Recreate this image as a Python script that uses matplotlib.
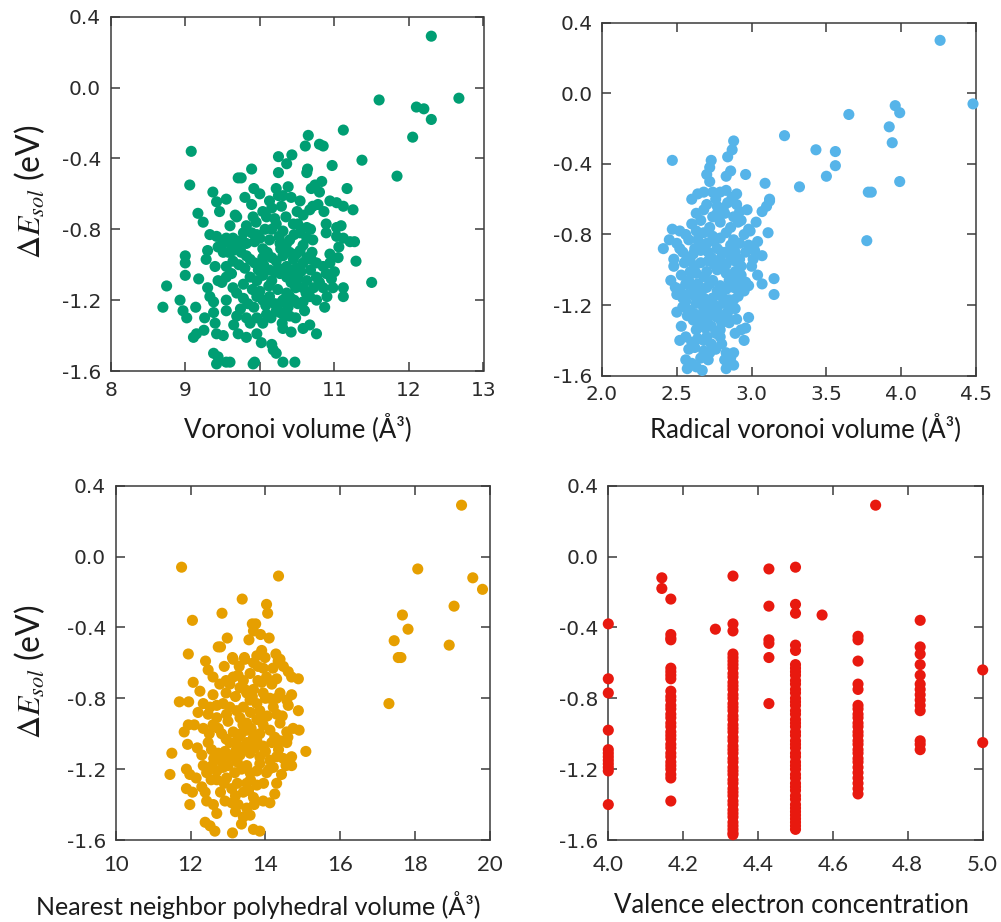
import matplotlib
matplotlib.use("Agg")
import matplotlib.pyplot as plt

# ---------------- data ----------------
# Voronoi volume (A^3) vs solution energy (eV)
voronoi_vol = [12.30, 12.67, 11.60, 12.10, 12.20, 12.30, 12.05, 11.84, 11.12, 10.65, 10.61, 10.80, 10.85,
               9.08, 10.25, 10.43, 10.36, 11.37, 10.97, 9.89, 10.25, 10.64, 10.63, 9.71, 9.75, 9.06, 9.92,
               10.22, 10.38, 10.69, 10.74, 10.83, 10.80, 11.17, 9.37,
               9.42, 10.13, 10.25, 10.31, 10.54, 10.94, 11.03, 11.12,
               9.89, 10.16, 10.04, 10.29, 10.09, 10.20, 9.17, 9.24, 9.67, 9.69, 9.91, 10.58, 10.67, 10.78,
               10.71, 10.45, 10.51, 10.63, 10.89, 11.09, 11.25, 11.03,
               9.33, 9.42, 9.55, 9.64, 9.78, 9.89, 9.96, 10.07, 10.16, 10.22, 10.31, 10.40, 10.54, 10.63,
               10.71, 10.89, 11.03, 11.12, 11.21, 11.27, 9.44, 9.60, 9.69, 9.82, 9.93, 10.04, 10.13, 10.27,
               10.36, 10.58,
               9.00, 9.00, 9.28, 9.51, 9.64, 9.75, 9.82, 9.64, 9.55, 9.87, 9.93, 10.04, 10.16, 10.22, 10.31,
               10.40, 10.49, 10.54, 10.63, 10.69, 10.76, 10.85, 10.94, 11.05, 10.94, 11.29, 10.13, 10.25,
               10.36, 10.49,
               8.75, 9.00, 9.18, 9.44, 9.49, 9.55, 9.64, 9.78, 9.87, 9.96, 10.04, 10.16, 10.27, 10.36, 10.45,
               10.51, 10.63, 10.76, 10.89, 11.00, 11.50, 10.58, 10.85, 10.98, 11.12,
               8.70, 8.93, 8.97, 9.14, 9.33, 9.38, 9.55, 9.55, 9.69, 9.78, 9.84, 9.96, 10.04, 10.13, 10.20,
               10.31, 10.40, 10.51, 10.58, 10.67, 10.76, 10.87, 11.12,
               9.02, 9.26, 9.40, 9.38, 9.69, 9.82, 9.87, 9.96, 10.04, 10.09, 10.22, 10.33, 10.40, 10.27,
               9.11, 9.15, 9.42, 9.51, 9.71, 9.82, 9.96, 10.02, 10.16, 10.31, 10.42, 10.58, 10.67, 10.76,
               9.38, 9.44, 9.55, 9.42, 9.60, 9.91, 9.93, 10.18, 10.22, 10.31, 10.47,
               10.10, 10.28, 10.45, 10.58, 10.70, 10.05, 10.20, 10.33, 10.42, 10.55, 10.68, 10.80, 10.12,
               10.24, 10.36, 10.48, 10.62, 10.72, 9.90, 10.00, 10.08, 10.26, 10.38, 10.46, 10.60, 10.15,
               10.30, 9.92, 9.74, 9.62, 9.72, 9.80, 9.98, 9.50, 9.58, 9.76, 10.00, 10.26, 10.46, 10.68,
               9.60, 9.82, 9.95, 10.35, 10.50, 9.30, 9.40, 9.30, 9.25, 9.65, 10.48, 10.90, 10.96, 11.06,
               9.46, 9.55, 9.80, 10.00, 10.42, 10.86]
de_voronoi = [0.29, -0.06, -0.07, -0.11, -0.12, -0.18, -0.28, -0.50, -0.24, -0.27, -0.33, -0.32, -0.33,
              -0.36, -0.39, -0.38, -0.43, -0.41, -0.44, -0.46, -0.48, -0.46, -0.48, -0.51, -0.51, -0.55, -0.57,
              -0.57, -0.56, -0.57, -0.55, -0.53, -0.59, -0.57, -0.59,
              -0.645, -0.64, -0.61, -0.61, -0.64, -0.64, -0.65, -0.67,
              -0.66, -0.68, -0.70, -0.67, -0.73, -0.74, -0.71, -0.76, -0.72, -0.73, -0.73, -0.72, -0.69, -0.66,
              -0.67, -0.77, -0.77, -0.79, -0.77, -0.78, -0.69, -0.79,
              -0.83, -0.84, -0.85, -0.85, -0.82, -0.82, -0.83, -0.80, -0.80, -0.77, -0.81, -0.86, -0.82, -0.85,
              -0.86, -0.82, -0.84, -0.85, -0.87, -0.87, -0.90, -0.88, -0.89, -0.88, -0.87, -0.91, -0.86, -0.88,
              -0.88, -0.89,
              -0.95, -0.99, -0.97, -0.93, -0.92, -0.93, -0.95, -0.98, -1.01, -0.97, -0.99, -0.96, -0.96, -0.98, -0.95,
              -0.93, -0.94, -0.92, -0.96, -0.97, -0.99, -1.01, -0.94, -0.96, -0.99, -0.98, -1.03, -1.02,
              -1.01, -1.02,
              -1.12, -1.06, -1.08, -1.09, -1.10, -1.07, -1.13, -1.11, -1.07, -1.09, -1.06, -1.09, -1.05, -1.07, -1.05,
              -1.08, -1.09, -1.07, -1.05, -1.04, -1.10, -1.13, -1.13, -1.13, -1.13,
              -1.24, -1.20, -1.26, -1.24, -1.18, -1.21, -1.20, -1.26, -1.16, -1.19, -1.22, -1.18, -1.20, -1.18, -1.22,
              -1.20, -1.18, -1.22, -1.21, -1.18, -1.20, -1.24, -1.18,
              -1.30, -1.30, -1.33, -1.27, -1.29, -1.30, -1.33, -1.30, -1.33, -1.28, -1.26, -1.29, -1.29, -1.27,
              -1.41, -1.39, -1.39, -1.40, -1.39, -1.41, -1.39, -1.44, -1.45, -1.36, -1.38, -1.36, -1.34, -1.39,
              -1.50, -1.52, -1.55, -1.56, -1.55, -1.56, -1.55, -1.48, -1.50, -1.55, -1.55,
              -0.93, -0.91, -0.97, -0.99, -0.93, -1.00, -1.04, -1.04, -1.10, -1.04, -1.03, -1.10, -1.12,
              -1.14, -1.16, -1.13, -1.16, -1.13, -1.14, -1.15, -1.23, -1.22, -1.24, -1.20, -1.26, -1.30,
              -1.33, -1.24, -1.25, -1.05, -1.00, -1.02, -1.03, -0.88, -0.93, -0.86, -0.85, -0.84, -0.83, -0.80,
              -0.78, -0.78, -0.76, -0.73, -0.70, -0.92, -1.01, -1.13, -1.37, -1.34, -1.30, -1.18, -1.08, -0.90,
              -0.70, -0.63, -0.62, -0.60, -0.62, -0.70]

# Radical Voronoi volume (A^3) vs solution energy (eV)
radical_vol = [4.26, 4.48, 3.65, 3.96, 3.99, 3.92, 3.94, 3.99, 3.22, 3.43, 3.56, 3.56, 3.50, 3.32, 3.09,
               3.12, 2.96, 2.47, 2.73, 2.72, 2.70, 2.72, 2.88, 2.87, 2.84, 2.86, 2.83, 2.64, 2.74, 2.79,
               2.83, 2.87, 3.78, 3.80,
               3.77, 2.70, 2.77, 2.81, 2.84, 2.90, 2.92, 2.63, 2.66, 2.77, 2.79, 2.88, 2.91, 3.07, 3.10,
               3.12, 3.03, 2.98, 2.99, 3.11, 2.47, 2.45, 2.50, 2.41, 2.48, 2.58, 2.63, 2.68, 2.64, 2.70,
               2.74, 2.79, 2.83, 2.88, 2.92, 2.54, 2.57, 2.61, 2.66, 2.71, 2.77, 2.83, 2.89, 2.98, 3.02,
               3.07, 3.01, 2.59, 2.66, 2.71, 2.79, 2.83, 2.89, 2.93, 2.59, 2.63, 2.70, 2.77, 2.83, 2.89,
               2.93, 2.96, 2.98, 3.04, 3.07, 3.15, 3.15, 2.49, 2.52, 2.54, 2.50, 2.58, 2.61, 2.66, 2.70,
               2.74, 2.79, 2.83, 2.88, 2.92, 2.91, 2.88, 2.54, 2.59, 2.63, 2.68, 2.72, 2.77, 2.81, 2.86,
               2.57, 2.61, 2.66, 2.71, 2.77, 2.81, 2.89, 2.98, 2.66, 2.69, 2.79, 2.85, 2.96, 2.93, 2.89,
               2.95, 2.52, 2.56, 2.60, 2.64, 2.70, 2.73, 2.79, 2.68, 2.71, 2.72, 2.56, 2.57, 2.63, 2.67,
               2.83, 2.88, 2.84, 2.88, 2.83, 2.68,
               2.60, 2.68, 2.74, 2.82, 2.86, 2.72, 2.60, 2.56, 2.66, 2.75, 2.86, 2.95, 2.52, 2.62, 2.73,
               2.80, 2.86, 2.96, 2.55, 2.62, 2.68, 2.75, 2.81, 2.86, 2.92, 2.53, 2.56, 2.64, 2.72, 2.77,
               2.85, 2.90, 2.95, 2.57, 2.62, 2.68, 2.74, 2.80, 2.85, 2.56, 2.66, 2.75, 2.84, 2.62, 2.68,
               2.74, 2.80, 2.84, 2.63, 2.73, 2.76, 2.62, 2.76, 2.80, 2.58, 2.66, 2.82, 2.60, 2.86, 2.93,
               2.97, 2.68, 2.76, 2.52, 2.48, 2.46, 2.50, 2.53, 2.90, 3.00, 3.04, 2.90]
de_radical = [0.30, -0.06, -0.12, -0.07, -0.11, -0.19, -0.28, -0.50, -0.24, -0.32, -0.33, -0.41, -0.47, -0.53, -0.51,
              -0.60, -0.46, -0.38, -0.38, -0.42, -0.46, -0.50, -0.27, -0.32, -0.36, -0.44, -0.47, -0.57, -0.56, -0.56,
              -0.55, -0.59, -0.56, -0.56,
              -0.835, -0.63, -0.64, -0.65, -0.62, -0.63, -0.67, -0.68, -0.72, -0.68, -0.73, -0.70, -0.73, -0.67, -0.64,
              -0.61, -0.73, -0.77, -0.78, -0.79, -0.77, -0.83, -0.85, -0.88, -0.94, -0.83, -0.78, -0.79, -0.83, -0.85,
              -0.81, -0.82, -0.79, -0.83, -0.85, -0.90, -0.93, -0.91, -0.89, -0.90, -0.88, -0.90, -0.90, -0.86, -0.89,
              -0.92, -0.94, -0.95, -0.96, -0.95, -0.94, -0.97, -0.95, -0.98, -1.01, -1.02, -1.01, -1.00, -1.02, -1.01,
              -1.03, -1.07, -1.09, -1.03, -1.08, -1.05, -1.14, -1.10, -1.11, -1.16, -1.14, -1.06, -1.10, -1.12, -1.10,
              -1.06, -1.09, -1.11, -1.10, -1.11, -1.15, -1.17, -1.21, -1.23, -1.19, -1.22, -1.20, -1.23, -1.19, -1.22,
              -1.26, -1.285, -1.26, -1.27, -1.27, -1.26, -1.22, -1.27, -1.31, -1.33, -1.34, -1.30, -1.33, -1.34, -1.36,
              -1.40, -1.40, -1.38, -1.41, -1.39, -1.38, -1.42, -1.38, -1.46, -1.51, -1.47, -1.51, -1.56, -1.55, -1.57,
              -1.47, -1.47, -1.53, -1.54, -1.56, -1.40,
              -0.60, -0.66, -0.70, -0.68, -0.76, -0.76, -0.74, -0.80, -0.86, -0.84, -0.86, -0.80, -0.88, -0.88, -0.93,
              -0.90, -0.93, -0.90, -0.96, -0.98, -1.04, -0.97, -0.99, -1.04, -0.94, -1.03, -1.08, -1.08, -1.08, -1.12,
              -1.06, -1.06, -1.12, -1.14, -1.15, -1.16, -1.16, -1.15, -1.17, -1.18, -1.19, -1.20, -1.24, -1.25, -1.28,
              -1.24, -1.30, -1.27, -1.34, -1.32, -1.36, -1.44, -1.45, -1.42, -1.45, -1.50, -1.51, -1.53, -1.50, -0.72,
              -0.66, -0.56, -0.60, -0.78, -0.98, -1.06, -1.24, -1.32, -1.28, -0.98, -0.84, -0.57]

# Nearest neighbor polyhedral volume (A^3) vs solution energy (eV)
nn_poly_vol = [19.24, 18.07, 19.54, 19.80, 19.04, 17.66, 17.81, 17.44, 17.55, 17.62, 18.91, 17.30,
               11.76, 14.35, 12.05, 12.84, 13.38, 14.03, 14.06, 13.65, 13.74, 13.68, 13.87, 14.10, 12.98,
               13.56, 12.74, 12.80, 11.94, 13.12, 13.44, 12.40, 13.77, 13.90, 13.99, 14.28, 14.39,
               12.47, 13.14, 13.45, 13.68, 13.94, 14.34, 14.48, 14.61, 14.70, 14.88,
               12.07, 12.25, 12.78, 13.14, 13.27, 13.41, 13.59, 13.05, 13.32, 13.50, 13.68, 13.90, 14.03,
               14.17, 13.94, 14.12, 14.39, 14.57, 14.70,
               12.34, 12.52, 12.70, 12.87, 13.05, 12.47, 12.70, 12.96, 13.23, 13.41, 13.59, 13.77,
               13.32, 13.50, 13.77, 13.94, 14.21, 14.30, 14.61, 14.88,
               11.83, 11.94, 12.34, 12.74, 12.83, 13.14, 13.27, 13.50, 13.68, 13.94, 14.12, 14.39, 14.57,
               14.74, 14.90,
               11.92, 12.18, 12.47, 12.56, 12.74, 13.05, 13.27, 13.50, 13.77, 13.94, 14.17, 14.39, 14.57,
               13.05, 13.32, 13.59, 13.85, 14.12, 14.30, 14.48, 14.70, 15.08, 11.50,
               11.45, 11.89, 11.98, 11.89, 12.34, 12.43, 12.70, 12.87, 12.96,
               13.18, 13.36, 13.59, 13.77, 14.03, 14.21, 14.43, 14.70,
               12.30, 12.39, 12.70, 13.10, 13.41, 13.50, 13.77,
               11.98, 12.43, 12.61, 12.92, 13.10, 13.27, 13.68, 13.94, 14.12, 14.25,
               13.41, 13.59, 13.36, 12.39, 12.52, 12.65, 13.12, 13.68, 13.85,
               12.90, 13.30, 13.80, 14.20, 12.60, 12.95, 13.45, 13.80, 14.30, 12.60, 12.95, 13.20, 13.65,
               14.00, 14.30, 12.20, 12.60, 13.00, 13.40, 13.60, 13.85, 14.05, 14.45, 12.50, 12.95, 13.35,
               13.62, 13.85, 14.25, 14.60, 12.30, 12.62, 12.92, 13.20, 13.45, 13.72, 14.00, 14.35, 12.58,
               12.80, 13.00, 13.25, 13.50, 13.85, 14.10, 14.55, 12.55, 12.90, 13.25, 13.60, 13.95, 14.30,
               12.80, 13.20, 13.55, 13.70, 13.20, 13.50, 12.70, 11.70, 11.95, 12.10, 12.15, 12.05]
de_nn_poly = [0.29, -0.07, -0.12, -0.185, -0.28, -0.33, -0.41, -0.475, -0.57, -0.57, -0.50, -0.83,
              -0.06, -0.11, -0.36, -0.32, -0.24, -0.27, -0.32, -0.38, -0.38, -0.42, -0.44, -0.46, -0.46,
              -0.47, -0.51, -0.51, -0.55, -0.57, -0.57, -0.59, -0.56, -0.53, -0.57, -0.55, -0.58,
              -0.64, -0.58, -0.58, -0.60, -0.63, -0.59, -0.62, -0.65, -0.68, -0.69,
              -0.71, -0.76, -0.72, -0.68, -0.67, -0.70, -0.66, -0.72, -0.74, -0.77, -0.75, -0.71, -0.68,
              -0.72, -0.77, -0.80, -0.77, -0.81, -0.78,
              -0.83, -0.85, -0.84, -0.83, -0.85, -0.89, -0.91, -0.89, -0.87, -0.85, -0.81, -0.83,
              -0.91, -0.94, -0.92, -0.91, -0.85, -0.89, -0.84, -0.87,
              -0.99, -0.95, -0.97, -0.97, -1.00, -0.99, -1.02, -0.98, -1.02, -0.95, -0.98, -0.94, -0.99,
              -0.97, -0.98,
              -1.06, -1.08, -1.05, -1.09, -1.11, -1.05, -1.07, -1.05, -1.04, -1.07, -1.05, -1.04, -1.05,
              -1.13, -1.12, -1.11, -1.13, -1.15, -1.13, -1.14, -1.13, -1.10, -1.11,
              -1.23, -1.20, -1.23, -1.31, -1.18, -1.22, -1.21, -1.19, -1.25,
              -1.22, -1.20, -1.22, -1.21, -1.22, -1.19, -1.23, -1.18,
              -1.30, -1.33, -1.26, -1.31, -1.33, -1.28, -1.29,
              -1.40, -1.38, -1.40, -1.38, -1.39, -1.40, -1.36, -1.38, -1.39, -1.34,
              -1.47, -1.46, -1.51, -1.50, -1.52, -1.55, -1.56, -1.54, -1.55,
              -0.62, -0.62, -0.62, -0.63, -0.68, -0.70, -0.75, -0.70, -0.69, -0.78, -0.77, -0.79, -0.79,
              -0.80, -0.80, -0.88, -0.95, -0.93, -0.95, -0.88, -0.87, -0.90, -0.90, -1.00, -1.03, -1.00,
              -0.97, -1.00, -1.02, -1.02, -1.12, -1.14, -1.10, -1.10, -1.08, -1.08, -1.10, -1.09, -1.18,
              -1.15, -1.18, -1.16, -1.18, -1.17, -1.20, -1.18, -1.26, -1.28, -1.28, -1.26, -1.28, -1.28,
              -1.33, -1.35, -1.32, -1.40, -1.44, -1.42, -1.45, -0.82, -0.82, -0.95, -1.25, -1.33]

# Valence electron concentration: one list of energies per VEC value
vec_levels = [4.0, 4.143, 4.167, 4.286, 4.333, 4.429, 4.5, 4.571, 4.667, 4.714, 4.833, 5.0]
de_by_vec = [
    [-0.38, -0.69, -0.77, -0.98, -1.09, -1.11, -1.13, -1.15, -1.17, -1.19, -1.21, -1.40],
    [-0.12, -0.18],
    [-0.24, -0.44, -0.46, -0.47, -0.63, -0.65, -0.67, -0.69, -0.76, -0.79, -0.81, -0.84, -0.86, -0.89,
     -0.91, -0.94, -0.96, -0.99, -1.01, -1.03, -1.06, -1.08, -1.11, -1.13, -1.16, -1.18, -1.20, -1.23,
     -1.25, -1.38],
    [-0.41],
    [-0.11, -0.38, -0.42, -0.55, -0.57, -0.59, -0.61, -0.63, -0.66, -0.68, -0.71, -0.73, -0.75, -0.78,
     -0.80, -0.83, -0.85, -0.87, -0.90, -0.92, -0.95, -0.97, -0.99, -1.02, -1.04, -1.07, -1.09, -1.11,
     -1.14, -1.16, -1.19, -1.21, -1.23, -1.26, -1.28, -1.31, -1.33, -1.35, -1.38, -1.40, -1.43, -1.45,
     -1.47, -1.50, -1.52, -1.54, -1.56, -1.57],
    [-0.07, -0.28, -0.47, -0.49, -0.57, -0.83],
    [-0.06, -0.27, -0.32, -0.50, -0.53, -0.61, -0.63, -0.65, -0.67, -0.70, -0.72, -0.75, -0.77, -0.80,
     -0.82, -0.84, -0.87, -0.89, -0.92, -0.94, -0.96, -0.99, -1.01, -1.04, -1.06, -1.08, -1.11, -1.13,
     -1.16, -1.18, -1.20, -1.23, -1.25, -1.28, -1.30, -1.32, -1.35, -1.37, -1.40, -1.42, -1.44, -1.46,
     -1.48, -1.50, -1.52, -1.54],
    [-0.33],
    [-0.45, -0.47, -0.59, -0.72, -0.75, -0.84, -0.86, -0.89, -0.91, -0.94, -0.96, -0.99, -1.01, -1.04,
     -1.06, -1.09, -1.11, -1.14, -1.16, -1.19, -1.22, -1.25, -1.28, -1.31, -1.34],
    [0.29],
    [-0.36, -0.51, -0.55, -0.61, -0.67, -0.72, -0.75, -0.78, -0.81, -0.84, -0.87, -1.04, -1.06, -1.09],
    [-0.64, -1.05],
]
vec_x = [v for v, ys in zip(vec_levels, de_by_vec) for _ in ys]
vec_y = [y for ys in de_by_vec for y in ys]

# tick labels
y_ticks = [-1.6, -1.2, -0.8, -0.4, 0.0, 0.4]
y_tick_labels = ["-1.6", "-1.2", "-0.8", "-0.4", "0.0", "0.4"]
voronoi_ticks = [8, 9, 10, 11, 12, 13]
radical_ticks = [2.0, 2.5, 3.0, 3.5, 4.0, 4.5]
radical_tick_labels = ["2.0", "2.5", "3.0", "3.5", "4.0", "4.5"]
nn_ticks = [10, 12, 14, 16, 18, 20]
vec_ticks = [4.0, 4.2, 4.4, 4.6, 4.8, 5.0]
vec_tick_labels = ["4.0", "4.2", "4.4", "4.6", "4.8", "5.0"]

# ---------------- drawing ----------------
plt.rcParams["mathtext.fontset"] = "stix"

W, H = 1001, 922
fig = plt.figure(figsize=(W / 100, H / 100), dpi=100)

label_font = ["Lato", "DejaVu Sans"]
spine_col = "#3a3a3a"
text_col = "#2b2b2b"


def make_axes(l, r, t, b):
    ax = fig.add_axes([l / W, 1 - b / H, (r - l) / W, (b - t) / H])
    for s in ax.spines.values():
        s.set_color(spine_col)
        s.set_linewidth(1.1)
    ax.tick_params(direction="in", length=6.5, width=1.1, color=spine_col,
                   top=True, right=True, labelsize=14.5, labelcolor=text_col, pad=7)
    ax.set_ylim(-1.6, 0.4)
    ax.set_yticks(y_ticks)
    ax.set_yticklabels(y_tick_labels)
    return ax


def scatter(ax, x, y, color):
    ax.scatter(x, y, s=64, color=color, edgecolors="none", clip_on=False, zorder=3)


ax1 = make_axes(110.7, 483.5, 16.7, 371.0)
scatter(ax1, voronoi_vol, de_voronoi, "#009E73")
ax1.set_xlim(8, 13)
ax1.set_xticks(voronoi_ticks)
ax1.set_xticklabels([str(t) for t in voronoi_ticks])

ax2 = make_axes(602.0, 976.0, 22.7, 375.7)
scatter(ax2, radical_vol, de_radical, "#56B4E9")
ax2.set_xlim(2.0, 4.5)
ax2.set_xticks(radical_ticks)
ax2.set_xticklabels(radical_tick_labels)

ax3 = make_axes(115.7, 490.0, 485.7, 840.0)
scatter(ax3, nn_poly_vol, de_nn_poly, "#E69F00")
ax3.set_xlim(10, 20)
ax3.set_xticks(nn_ticks)
ax3.set_xticklabels([str(t) for t in nn_ticks], fontfamily=label_font, fontsize=16)
ax3.tick_params(axis="x", pad=11)

ax4 = make_axes(608.3, 982.7, 485.7, 840.0)
scatter(ax4, vec_x, vec_y, "#E8190F")
ax4.set_xlim(4.0, 5.0)
ax4.set_xticks(vec_ticks)
ax4.set_xticklabels(vec_tick_labels, fontfamily=label_font, fontsize=16)
ax4.tick_params(axis="x", pad=11)


# axis titles
def ftext(px, py, s, **kw):
    fig.text(px / W, 1 - py / H, s, ha="center", va="center", color="#1a1a1a",
             fontfamily=label_font, **kw)


ftext(298, 428, "Voronoi volume (Å³)", fontsize=18.5)
ftext(805, 428, "Radical voronoi volume (Å³)", fontsize=18.5)
ftext(258, 905, "Nearest neighbor polyhedral volume (Å³)", fontsize=18)
ftext(791, 905, "Valence electron concentration", fontsize=18.5)
ftext(30, 192, r"$\Delta E_{sol}$ (eV)", fontsize=23, rotation=90)
ftext(30, 672, r"$\Delta E_{sol}$ (eV)", fontsize=23, rotation=90)

fig.savefig("out.png", dpi=100)
